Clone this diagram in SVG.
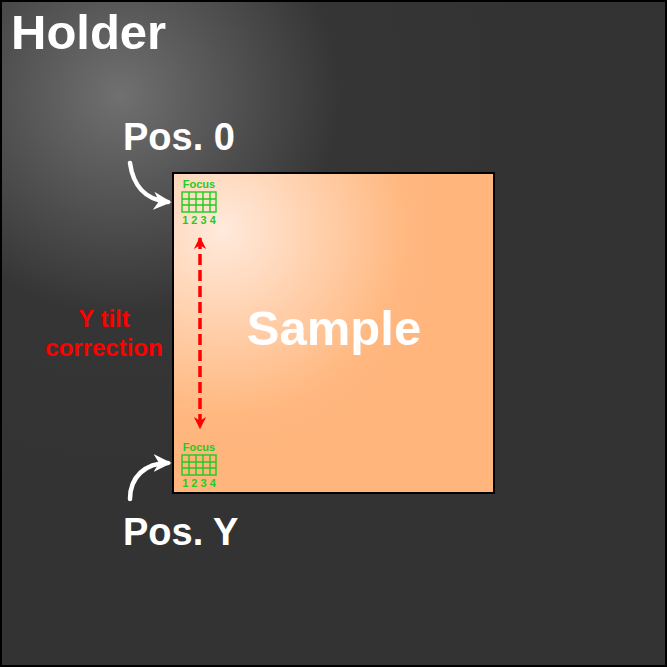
<svg xmlns="http://www.w3.org/2000/svg" width="667" height="667" viewBox="0 0 667 667">
<style>
.wt{font-family:"Liberation Sans",Arial,sans-serif;font-weight:bold;fill:#fff}
.gt{font-family:"Liberation Sans",Arial,sans-serif;font-weight:bold;fill:#1fcc1f}
.grid{fill:none;stroke:#1fcc1f;stroke-width:1.4}
.rt{font-family:"Liberation Sans",Arial,sans-serif;font-weight:bold;fill:#ff0000;font-size:24px;text-anchor:middle}
.warr{fill:none;stroke:#fff;stroke-width:4.5;stroke-linecap:round}
</style>
<defs>
<radialGradient id="hg" gradientUnits="userSpaceOnUse" cx="120" cy="95" r="400">
<stop offset="0" stop-color="#707070"/>
<stop offset="0.55" stop-color="#353535"/>
<stop offset="1" stop-color="#333"/>
</radialGradient>
<radialGradient id="sg" gradientUnits="userSpaceOnUse" cx="222" cy="230" r="230">
<stop offset="0" stop-color="#ffeadc"/>
<stop offset="0.8" stop-color="#ffb880"/>
<stop offset="1" stop-color="#ffb57c"/>
</radialGradient>
<marker id="wh" viewBox="0 0 10 10" refX="8" refY="5" markerWidth="4" markerHeight="4" orient="auto" markerUnits="strokeWidth">
<path d="M0,0 L10,5 L0,10 L3,5 Z" fill="#fff"/>
</marker>
<marker id="rh" viewBox="0 0 10 10" refX="9" refY="5" markerWidth="4" markerHeight="3.5" orient="auto-start-reverse" markerUnits="strokeWidth">
<path d="M0,0 L10,5 L0,10 L3,5 Z" fill="#ff0000"/>
</marker>
<g id="focusgrid">
<text class="gt" x="17" y="0" font-size="11" text-anchor="middle">Focus</text>
<rect class="grid" x="0" y="4" width="34" height="20"/>
<path class="grid" d="M7,4V24M14,4V24M21,4V24M28,4V24M0,11H34M0,17H34"/>
<text class="gt" x="17" y="36" font-size="11" text-anchor="middle">1 2 3 4</text>
</g>
</defs>
<g id="holder">
<rect x="1" y="1" width="665" height="665" fill="url(#hg)" stroke="#000" stroke-width="2"/>
<text class="wt" x="11" y="49" font-size="49">Holder</text>
</g>
<g id="sample">
<rect x="173" y="173" width="321" height="320" fill="url(#sg)" stroke="#000" stroke-width="2"/>
<text class="wt" x="334" y="345" font-size="49" text-anchor="middle">Sample</text>
</g>
<g id="pos0">
<use href="#focusgrid" x="182" y="188"/>
<text class="wt" x="123" y="150" font-size="38">Pos. 0</text>
</g>
<g id="posY">
<use href="#focusgrid" x="182" y="451"/>
<text class="wt" x="123" y="545" font-size="38">Pos. Y</text>
</g>
<g id="label">
<text class="rt" x="104" y="327">Y tilt</text>
<text class="rt" x="104" y="356">correction</text>
</g>
<g id="connectors">
<path class="warr" d="M130,163 C133,185 145,200 168,202" marker-end="url(#wh)"/>
<path class="warr" d="M130,499 C130,477 145,463 168,463" marker-end="url(#wh)"/>
<line x1="200" y1="238" x2="200" y2="428" stroke="#ff0000" stroke-width="3.5" stroke-dasharray="11,5" marker-start="url(#rh)" marker-end="url(#rh)"/>
</g>
</svg>
